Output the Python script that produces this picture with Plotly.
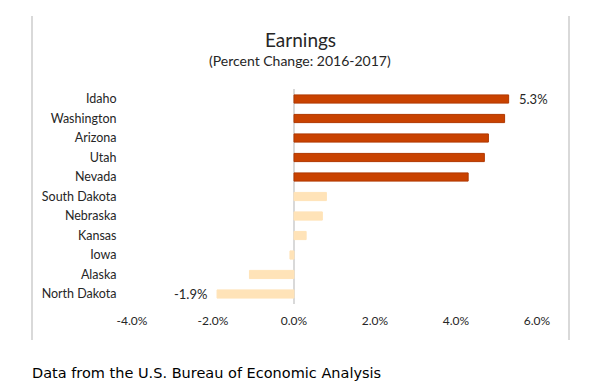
import plotly.graph_objects as go

states = ["Idaho", "Washington", "Arizona", "Utah", "Nevada", "South Dakota",
          "Nebraska", "Kansas", "Iowa", "Alaska", "North Dakota"]
pct_change = [5.3, 5.2, 4.8, 4.7, 4.3, 0.8, 0.7, 0.3, -0.1, -1.1, -1.9]
bar_labels = ["5.3%", "", "", "", "", "", "", "", "", "", "-1.9%"]
x_ticks = [-4, -2, 0, 2, 4, 6]
x_tick_text = ["-4.0%", "-2.0%", "0.0%", "2.0%", "4.0%", "6.0%"]

DARK = "#C94200"
DARK_LINE = "#B03800"
LIGHT = "#FFE3B8"
LIGHT_LINE = "#FFE3B8"
colors = [DARK] * 5 + [LIGHT] * 6
line_colors = [DARK_LINE] * 5 + [LIGHT_LINE] * 6

FONT = "Lato"
OFF = 8  # page body margin offset

L, R, T, B = 132 - OFF, 537 - OFF, 89 - OFF, 304 - OFF
PW, PH = R - L, B - T


def px(x):
    return (x - OFF - L) / PW


def py(y):
    return (B - (y - OFF)) / PH


fig = go.Figure()
fig.add_trace(go.Bar(
    y=states, x=pct_change, orientation="h",
    marker=dict(color=colors, line=dict(color=line_colors, width=1)),
    width=0.42,
    hoverinfo="skip",
))

annotations = [
    dict(text="Earnings", xref="paper", yref="paper",
         x=px(300), y=py(40), xanchor="center",
         yanchor="middle", showarrow=False,
         font=dict(family=FONT, size=19, color="#262626")),
    dict(text="(Percent Change: 2016-2017)", xref="paper", yref="paper",
         x=px(300), y=py(61), xanchor="center",
         yanchor="middle", showarrow=False,
         font=dict(family=FONT, size=14, color="#262626")),
    dict(text="Data from the U.S. Bureau of Economic Analysis",
         xref="paper", yref="paper",
         x=px(30), y=py(373), xanchor="left",
         yanchor="middle", showarrow=False,
         font=dict(family="DejaVu Sans", size=14.5, color="#000000")),
]
for st, v, lab in zip(states, pct_change, bar_labels):
    if lab:
        annotations.append(dict(
            text=lab, x=v, y=st, xref="x", yref="y", showarrow=False,
            xanchor="left" if v >= 0 else "right",
            xshift=8 if v >= 0 else -8, yanchor="middle",
            font=dict(family=FONT, size=13, color="#262626")))

fig.update_layout(
    width=597, height=390,
    margin=dict(l=L, r=597 - R, t=T, b=390 - B),
    paper_bgcolor="white", plot_bgcolor="white",
    showlegend=False,
    font=dict(family=FONT, size=12, color="#262626"),
    xaxis=dict(range=[-4, 6], tickvals=x_ticks, ticktext=x_tick_text,
               showgrid=False, zeroline=True, zerolinecolor="#D9D9D9",
               zerolinewidth=1.5, showline=False, ticks="outside",
               ticklen=6, tickcolor="rgba(0,0,0,0)", fixedrange=True,
               tickfont=dict(family=FONT, size=12, color="#262626")),
    yaxis=dict(autorange="reversed", showgrid=False, showline=False,
               ticks="outside", ticklen=12, tickcolor="rgba(0,0,0,0)",
               tickfont=dict(family=FONT, size=12.5, color="#262626"),
               fixedrange=True),
    shapes=[
        dict(type="line", xref="paper", yref="paper",
             x0=px(32), x1=px(32), y0=py(340), y1=py(16),
             line=dict(color="#D9D9D9", width=2)),
        dict(type="line", xref="paper", yref="paper",
             x0=px(569), x1=px(569), y0=py(340), y1=py(16),
             line=dict(color="#D9D9D9", width=2)),
    ],
    annotations=annotations,
)

fig.write_html("out.html")
